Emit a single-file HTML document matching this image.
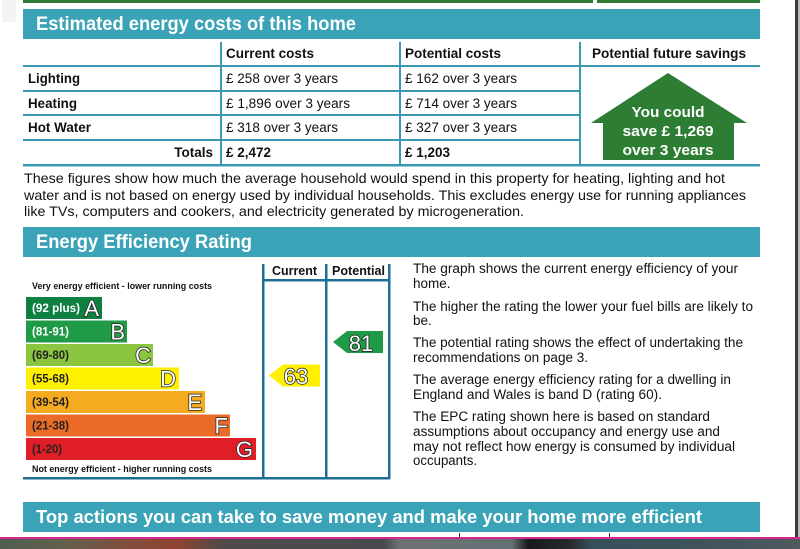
<!DOCTYPE html>
<html><head><meta charset="utf-8"><style>
html,body{margin:0;padding:0;background:#fff;}
svg{display:block;}
text{font-family:"Liberation Sans",Arial,sans-serif;}
</style></head><body>
<svg width="800" height="549" viewBox="0 0 800 549" xmlns="http://www.w3.org/2000/svg">
<rect x="0" y="0" width="800" height="549" fill="#fff"/>
<!-- left faint shadow -->
<rect x="2" y="0" width="14" height="22" fill="#f3f3f3"/>
<!-- right border -->
<rect x="795" y="0" width="3" height="538" fill="#3a3a3a"/>
<rect x="798" y="0" width="2" height="538" fill="#bbbbbb"/>
<!-- top green lines -->
<rect x="23" y="0" width="570" height="3" fill="#2e7a36"/>
<rect x="597" y="0" width="163" height="3" fill="#2e7a36"/>

<!-- Header 1 -->
<rect x="23" y="9" width="737" height="30" fill="#3ba3b7"/>
<text x="36" y="30" font-size="19.5" font-weight="bold" fill="#fff" textLength="320" lengthAdjust="spacingAndGlyphs">Estimated energy costs of this home</text>

<!-- table lines -->
<g fill="#3a9ab4">
<rect x="220" y="42" width="2" height="124"/>
<rect x="399" y="42" width="2" height="124"/>
<rect x="579" y="42" width="2" height="124"/>
<rect x="23" y="65" width="737" height="2"/>
<rect x="23" y="90" width="557" height="2"/>
<rect x="23" y="114" width="557" height="2"/>
<rect x="23" y="139" width="557" height="2"/>
<rect x="23" y="164" width="737" height="2.5"/>
</g>
<g font-size="13.5" fill="#111">
<text x="226" y="58" font-weight="bold" textLength="88" lengthAdjust="spacingAndGlyphs">Current costs</text>
<text x="405" y="58" font-weight="bold" textLength="96" lengthAdjust="spacingAndGlyphs">Potential costs</text>
<text x="592" y="58" font-weight="bold" textLength="154" lengthAdjust="spacingAndGlyphs">Potential future savings</text>
<text x="28" y="83" font-weight="bold" textLength="52" lengthAdjust="spacingAndGlyphs">Lighting</text>
<text x="28" y="108" font-weight="bold" textLength="49" lengthAdjust="spacingAndGlyphs">Heating</text>
<text x="28" y="132" font-weight="bold" textLength="63" lengthAdjust="spacingAndGlyphs">Hot Water</text>
<text x="213" y="157" font-weight="bold" text-anchor="end">Totals</text>
<text x="226" y="83" textLength="112" lengthAdjust="spacingAndGlyphs">£ 258 over 3 years</text>
<text x="226" y="108" textLength="124" lengthAdjust="spacingAndGlyphs">£ 1,896 over 3 years</text>
<text x="226" y="132" textLength="112" lengthAdjust="spacingAndGlyphs">£ 318 over 3 years</text>
<text x="226" y="157" font-weight="bold" textLength="45" lengthAdjust="spacingAndGlyphs">£ 2,472</text>
<text x="405" y="83" textLength="112" lengthAdjust="spacingAndGlyphs">£ 162 over 3 years</text>
<text x="405" y="108" textLength="112" lengthAdjust="spacingAndGlyphs">£ 714 over 3 years</text>
<text x="405" y="132" textLength="112" lengthAdjust="spacingAndGlyphs">£ 327 over 3 years</text>
<text x="405" y="157" font-weight="bold" textLength="45" lengthAdjust="spacingAndGlyphs">£ 1,203</text>
</g>
<!-- house -->
<polygon points="668,73 747,123 734,123 734,160 603,160 603,123 591,123" fill="#2e7d34"/>
<g font-size="15" font-weight="bold" fill="#fff" text-anchor="middle">
<text x="668" y="117" textLength="73" lengthAdjust="spacingAndGlyphs">You could</text>
<text x="668" y="136" textLength="91" lengthAdjust="spacingAndGlyphs">save £ 1,269</text>
<text x="668" y="155" textLength="91" lengthAdjust="spacingAndGlyphs">over 3 years</text>
</g>

<!-- paragraph -->
<g font-size="14" fill="#111">
<text x="24" y="183" textLength="701" lengthAdjust="spacingAndGlyphs">These figures show how much the average household would spend in this property for heating, lighting and hot</text>
<text x="24" y="200" textLength="722" lengthAdjust="spacingAndGlyphs">water and is not based on energy used by individual households. This excludes energy use for running appliances</text>
<text x="24" y="216" textLength="500" lengthAdjust="spacingAndGlyphs">like TVs, computers and cookers, and electricity generated by microgeneration.</text>
</g>

<!-- Header 2 -->
<rect x="23" y="227" width="737" height="30" fill="#3ba3b7"/>
<text x="36" y="248" font-size="19" font-weight="bold" fill="#fff" textLength="216" lengthAdjust="spacingAndGlyphs">Energy Efficiency Rating</text>

<!-- EPC frame -->
<g fill="#1f6f94">
<rect x="262" y="264" width="2.5" height="215"/>
<rect x="325" y="264" width="2.5" height="215"/>
<rect x="388" y="264" width="2.5" height="215"/>
<rect x="262" y="279" width="128" height="2.5"/>
<rect x="23" y="477" width="367" height="2.5"/>
</g>
<g font-size="12.5" font-weight="bold" fill="#111">
<text x="272" y="275" textLength="45" lengthAdjust="spacingAndGlyphs">Current</text>
<text x="332" y="275" textLength="53" lengthAdjust="spacingAndGlyphs">Potential</text>
</g>
<g font-size="9" font-weight="bold" fill="#111">
<text x="32" y="289" textLength="180" lengthAdjust="spacingAndGlyphs">Very energy efficient - lower running costs</text>
<text x="32" y="472" textLength="180" lengthAdjust="spacingAndGlyphs">Not energy efficient - higher running costs</text>
</g>
<!-- bands -->
<rect x="26" y="297" width="76" height="22" fill="#0c7f41"/>
<rect x="26" y="320.5" width="101" height="22" fill="#1f9b48"/>
<rect x="26" y="344" width="127" height="22" fill="#8cc540"/>
<rect x="26" y="367.5" width="153" height="22" fill="#fff000"/>
<rect x="26" y="391" width="179" height="22" fill="#f5ab20"/>
<rect x="26" y="414.5" width="204" height="22" fill="#ea6b27"/>
<rect x="26" y="438" width="230" height="22" fill="#e01e27"/>
<g font-size="11.5" font-weight="bold">
<text x="32" y="312" fill="#fff" textLength="48" lengthAdjust="spacingAndGlyphs">(92 plus)</text>
<text x="32" y="335.5" fill="#fff" textLength="37" lengthAdjust="spacingAndGlyphs">(81-91)</text>
<text x="32" y="359" fill="#222" textLength="37" lengthAdjust="spacingAndGlyphs">(69-80)</text>
<text x="32" y="382.5" fill="#222" textLength="37" lengthAdjust="spacingAndGlyphs">(55-68)</text>
<text x="32" y="406" fill="#222" textLength="37" lengthAdjust="spacingAndGlyphs">(39-54)</text>
<text x="32" y="429.5" fill="#222" textLength="37" lengthAdjust="spacingAndGlyphs">(21-38)</text>
<text x="32" y="453" fill="#222" textLength="30" lengthAdjust="spacingAndGlyphs">(1-20)</text>
</g>
<g font-size="22" fill="#fff" stroke="#222" stroke-width="1.5" text-anchor="end" paint-order="stroke">
<text x="99" y="316">A</text>
<text x="125" y="339.5">B</text>
<text x="151" y="363">C</text>
<text x="176" y="386.5">D</text>
<text x="202" y="410">E</text>
<text x="228" y="433.5">F</text>
<text x="253" y="457">G</text>
</g>
<!-- arrows -->
<polygon points="269,375.5 283,364.5 320,364.5 320,386.5 283,386.5" fill="#fff000"/>
<polygon points="333,342 347,331 383,331 383,353 347,353" fill="#1f9b48"/>
<g font-size="22" fill="#fff" stroke="#222" stroke-width="1.5" text-anchor="middle" paint-order="stroke">
<text x="296" y="384">63</text>
<text x="361" y="351">81</text>
</g>

<!-- right text -->
<g font-size="13.5" fill="#111">
<text x="413" y="273" textLength="325" lengthAdjust="spacingAndGlyphs">The graph shows the current energy efficiency of your</text>
<text x="413" y="288">home.</text>
<text x="413" y="311" textLength="340" lengthAdjust="spacingAndGlyphs">The higher the rating the lower your fuel bills are likely to</text>
<text x="413" y="325">be.</text>
<text x="413" y="347" textLength="330" lengthAdjust="spacingAndGlyphs">The potential rating shows the effect of undertaking the</text>
<text x="413" y="362" textLength="175" lengthAdjust="spacingAndGlyphs">recommendations on page 3.</text>
<text x="413" y="384" textLength="318" lengthAdjust="spacingAndGlyphs">The average energy efficiency rating for a dwelling in</text>
<text x="413" y="399" textLength="249" lengthAdjust="spacingAndGlyphs">England and Wales is band D (rating 60).</text>
<text x="413" y="421" textLength="297" lengthAdjust="spacingAndGlyphs">The EPC rating shown here is based on standard</text>
<text x="413" y="436" textLength="307" lengthAdjust="spacingAndGlyphs">assumptions about occupancy and energy use and</text>
<text x="413" y="451" textLength="322" lengthAdjust="spacingAndGlyphs">may not reflect how energy is consumed by individual</text>
<text x="413" y="465" textLength="64" lengthAdjust="spacingAndGlyphs">occupants.</text>
</g>

<!-- Header 3 -->
<rect x="23" y="502" width="737" height="30" fill="#3ba3b7"/>
<text x="36" y="523" font-size="18" font-weight="bold" fill="#fff" textLength="666" lengthAdjust="spacingAndGlyphs">Top actions you can take to save money and make your home more efficient</text>
<rect x="459" y="533" width="1" height="4" fill="#333"/>
<rect x="609" y="533" width="1" height="4" fill="#333"/>

<!-- bottom strip -->
<defs>
<linearGradient id="strip" x1="0" x2="1" y1="0" y2="0">
<stop offset="0" stop-color="#4e5e50"/>
<stop offset="0.08" stop-color="#62604c"/>
<stop offset="0.15" stop-color="#7e5040"/>
<stop offset="0.22" stop-color="#8e4430"/>
<stop offset="0.28" stop-color="#4e4a4a"/>
<stop offset="0.48" stop-color="#4a4a4e"/>
<stop offset="0.5" stop-color="#6e7276"/>
<stop offset="0.64" stop-color="#647074"/>
<stop offset="0.66" stop-color="#1a1a1e"/>
<stop offset="0.71" stop-color="#24282c"/>
<stop offset="0.74" stop-color="#36505a"/>
<stop offset="0.9" stop-color="#42545c"/>
<stop offset="1" stop-color="#505a5e"/>
</linearGradient>
</defs>
<rect x="0" y="539" width="800" height="10" fill="url(#strip)"/>
<rect x="0" y="537" width="800" height="2" fill="#d6268f"/>
</svg>
</body></html>
